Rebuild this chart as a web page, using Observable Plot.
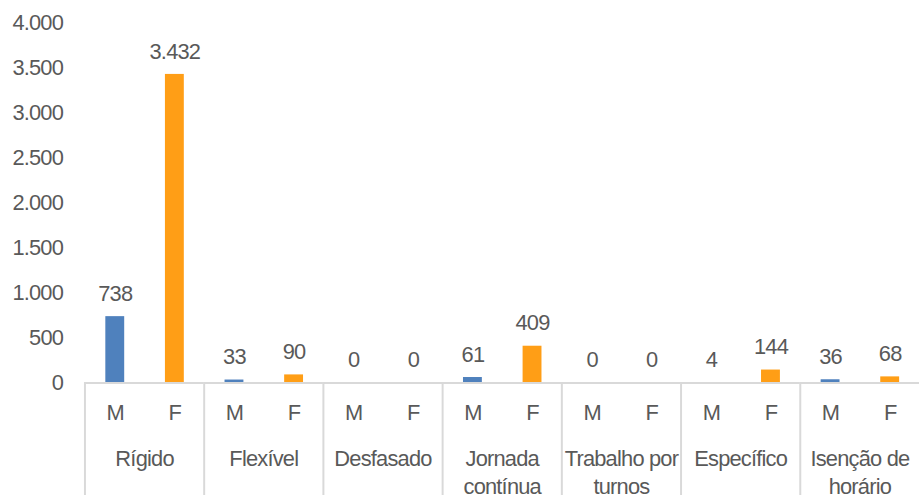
<!DOCTYPE html>
<html>
<head>
<meta charset="utf-8">
<script src="https://cdn.jsdelivr.net/npm/d3@7"></script>
<script src="https://cdn.jsdelivr.net/npm/@observablehq/plot@0.6"></script>
<style>
  html, body { margin: 0; padding: 0; background: #fff; overflow: hidden; }
  #chart svg { display: block; }
  #chart svg text { letter-spacing: -0.8px; }
</style>
</head>
<body>
<div id="chart"></div>
<script>
const categories = ["Rígido", "Flexível", "Desfasado", "Jornada contínua", "Trabalho por turnos", "Específico", "Isenção de horário"];
const categoryLabels = ["Rígido", "Flexível", "Desfasado", "Jornada\ncontínua", "Trabalho por\nturnos", "Específico", "Isenção de\nhorário"];
const sexes = ["M", "F"];
const valuesM = [738, 33, 0, 61, 0, 4, 36];
const valuesF = [3432, 90, 0, 409, 0, 144, 68];
const yTicks = [0, 500, 1000, 1500, 2000, 2500, 3000, 3500, 4000];

const data = [];
categories.forEach((c, i) => {
  data.push({cat: c, sex: "M", value: valuesM[i]});
  data.push({cat: c, sex: "F", value: valuesF[i]});
});
const catRows = categories.map((c, i) => ({cat: c, label: categoryLabels[i]}));

const fmt = d3.formatLocale({decimal: ",", thousands: ".", grouping: [3], currency: ["", "€"]}).format(",d");
const textColor = "#595959";
const fontFamily = "'Liberation Sans Narrow', 'Arial Narrow', 'Liberation Sans', Arial, sans-serif";
const fs = 22;

const chart = Plot.plot({
  width: 926,
  height: 498,
  marginLeft: 83,
  marginRight: 0,
  marginTop: 23,
  marginBottom: 113,
  style: {fontFamily, fontSize: fs + "px", color: textColor, background: "#fff"},
  fx: {domain: categories, padding: 0, axis: null, label: null},
  x: {domain: sexes, paddingInner: 0.684, paddingOuter: 0.342, axis: null, label: null},
  y: {domain: [0, 4000], axis: null, label: null},
  color: {domain: sexes, range: ["#4F81BD", "#FF9E16"]},
  marks: [
    Plot.barY(data, {fx: "cat", x: "sex", y: "value", fill: "sex"}),
    Plot.ruleY([0], {stroke: "#d9d9d9", strokeWidth: 2}),
    Plot.frame({anchor: "left", stroke: "#d9d9d9", strokeWidth: 2, insetTop: 362, insetBottom: -113}),
    Plot.text(data, {fx: "cat", x: "sex", y: "value", text: d => fmt(d.value), dy: -16, lineAnchor: "bottom", fill: textColor, fontSize: fs}),
    Plot.axisY({ticks: yTicks, tickSize: 0, tickPadding: 22, tickFormat: fmt, fontSize: fs, fill: textColor, label: null}),
    Plot.axisX({tickSize: 0, tickPadding: 22, fontSize: fs, fill: textColor, label: null}),
    Plot.text(catRows, {fx: "cat", text: "label", frameAnchor: "bottom", dy: 63, lineAnchor: "top", lineHeight: 1.3, fill: textColor, fontSize: fs})
  ]
});
document.getElementById("chart").appendChild(chart);
</script>
</body>
</html>
